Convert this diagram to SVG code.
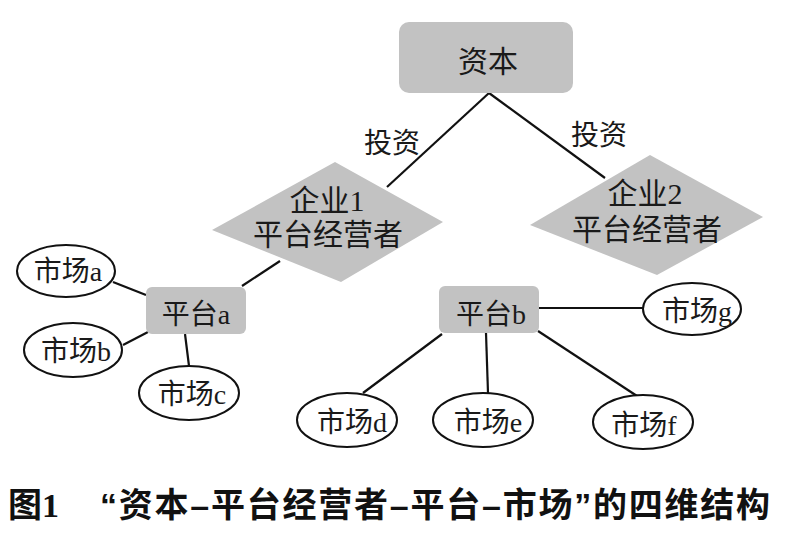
<svg xmlns="http://www.w3.org/2000/svg" width="800" height="541" viewBox="0 0 800 541">
  <style>
    .box { fill: #c2c2c2; }
    .oval { fill: #ffffff; stroke: #111111; stroke-width: 2; }
    .t { font-family: "Liberation Serif", "Noto Sans CJK SC", serif; fill: #1a1a1a; text-anchor: middle; }
    .m { font-size: 28px; }
    .cap { font-family: "Liberation Sans", "Noto Sans CJK SC", sans-serif; font-weight: bold; fill: #111111; }
    #connectors line { stroke: #111111; stroke-width: 2.2; }
  </style>
  <rect width="800" height="541" fill="#ffffff"/>

  <g id="connectors">
    <line x1="489" y1="93" x2="387" y2="187"/>
    <line x1="489" y1="93" x2="605" y2="178"/>
    <line x1="280" y1="261" x2="242" y2="286"/>
    <line x1="113" y1="282" x2="146" y2="295"/>
    <line x1="123" y1="345" x2="148" y2="332"/>
    <line x1="185" y1="334" x2="189" y2="366"/>
    <line x1="539" y1="308" x2="643" y2="308"/>
    <line x1="442" y1="334" x2="363" y2="393"/>
    <line x1="486" y1="333" x2="488" y2="393"/>
    <line x1="538" y1="331" x2="637" y2="396"/>
  </g>

  <g id="label-invest-left"><text class="t" x="392" y="153" font-size="28">投资</text></g>
  <g id="label-invest-right"><text class="t" x="599" y="145" font-size="28">投资</text></g>

  <g id="node-capital">
    <rect class="box" x="399" y="22" width="174" height="71" rx="10"/>
    <text class="t" x="488" y="72" font-size="30">资本</text>
  </g>

  <g id="node-firm1">
    <polygon class="box" points="335,162 443,222 341,282 212,230"/>
    <text class="t" x="327" y="211" font-size="30">企业1</text>
    <text class="t" x="328" y="245" font-size="30">平台经营者</text>
  </g>

  <g id="node-firm2">
    <polygon class="box" points="650,155 763,217 657,275 530,225"/>
    <text class="t" x="645" y="204" font-size="30">企业2</text>
    <text class="t" x="647" y="240" font-size="30">平台经营者</text>
  </g>

  <g id="node-platform-a">
    <rect class="box" x="146" y="287" width="100" height="47" rx="6"/>
    <text class="t" x="196" y="324" font-size="28">平台a</text>
  </g>

  <g id="node-platform-b">
    <rect class="box" x="439" y="286" width="100" height="47" rx="6"/>
    <text class="t" x="491" y="324" font-size="28">平台b</text>
  </g>

  <g id="node-market-a">
    <ellipse class="oval" cx="66" cy="271" rx="49" ry="26"/>
    <text class="t m" x="68" y="281">市场a</text>
  </g>
  <g id="node-market-b">
    <ellipse class="oval" cx="73" cy="350" rx="49" ry="27"/>
    <text class="t m" x="76" y="361">市场b</text>
  </g>
  <g id="node-market-c">
    <ellipse class="oval" cx="189" cy="393" rx="50" ry="27"/>
    <text class="t m" x="192" y="404">市场c</text>
  </g>
  <g id="node-market-d">
    <ellipse class="oval" cx="347" cy="420" rx="50" ry="27"/>
    <text class="t m" x="352" y="432">市场d</text>
  </g>
  <g id="node-market-e">
    <ellipse class="oval" cx="483" cy="420" rx="50" ry="27"/>
    <text class="t m" x="488" y="432">市场e</text>
  </g>
  <g id="node-market-f">
    <ellipse class="oval" cx="643" cy="422" rx="50" ry="27"/>
    <text class="t m" x="644" y="435">市场f</text>
  </g>
  <g id="node-market-g">
    <ellipse class="oval" cx="692" cy="309" rx="49" ry="26"/>
    <text class="t m" x="697" y="321">市场g</text>
  </g>

  <g id="caption">
    <text class="cap" x="8" y="517" font-size="34">图<tspan font-family="Liberation Serif, serif">1</tspan></text>
    <text class="cap" x="100" y="517" font-size="34" textLength="670" lengthAdjust="spacing">“资本–平台经营者–平台–市场”的四维结构</text>
  </g>
</svg>
